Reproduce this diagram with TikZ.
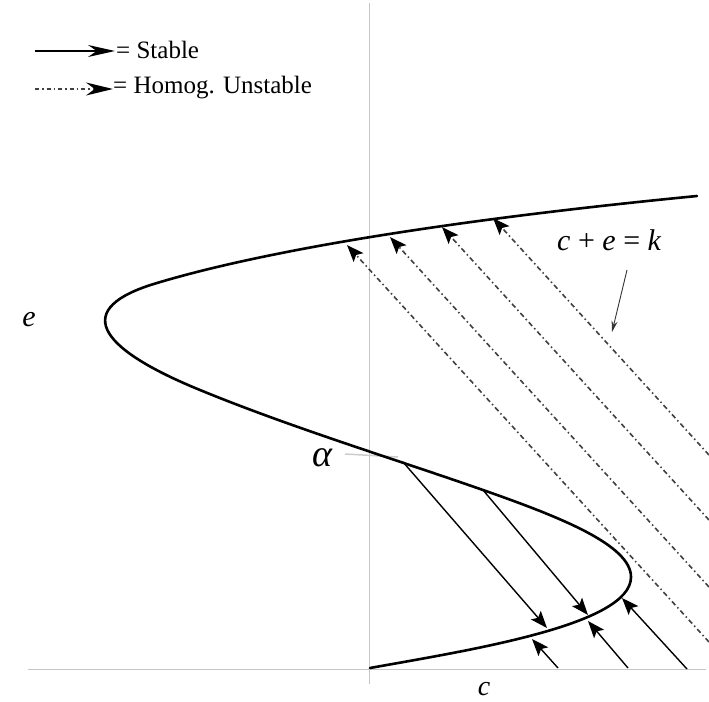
\documentclass[tikz,border=0pt]{standalone}
\usepackage{fontspec}
\setmainfont{Liberation Serif}
\usetikzlibrary{arrows.meta}
\tikzset{
  axisline/.style={gray!45, line width=1pt},
  branch/.style={black, line width=2.6pt, line cap=round},
  stablearrow/.style={black, line width=1.4pt, -{Stealth[length=17pt,width=13pt,inset=3.5pt]}},
  unstablearrow/.style={black!75, line width=1.6pt, dash pattern=on 5pt off 3pt on 1.5pt off 3pt, -{Stealth[length=17pt,width=13pt,inset=3.5pt,black]}},
  legendsolid/.style={black, line width=1.5pt, -{Stealth[length=27pt,width=12pt]}},
  legenddash/.style={black!75, line width=1.5pt, dash pattern=on 4pt off 3pt on 1.5pt off 3pt, -{Stealth[length=27pt,width=13pt,black]}},
  notearrow/.style={black!80, line width=0.9pt, -{Stealth[length=11pt,width=6pt]}},
  lbl/.style={inner sep=0pt, font=\fontsize{30}{32}\selectfont\itshape},
  legtxt/.style={inner sep=0pt, anchor=base west, font=\fontsize{25}{27}\selectfont}
}
\begin{document}
\begin{tikzpicture}[x=1pt,y=-1pt]
\useasboundingbox (0,0) rectangle (709,701);
% axes
\draw[axisline] (369,3) -- (369,684);
\draw[axisline] (28,669) -- (706,669);
% alpha marker
\draw[gray!40, line width=1.5pt] (345,454) -- (398,457);
% S-shaped curve
\draw[branch] (370,668) .. controls (470,650) and (631,625) .. (631,577)
  .. controls (631,545) and (560,517) .. (483,490)
  .. controls (393,458.5) and (290,427) .. (200,390)
  .. controls (95,347) and (72,308) .. (157,283)
  .. controls (240,258) and (400,225) .. (697,196);
% stable arrows
\coordinate (s1a) at (403,462); \coordinate (s1b) at (547,628);
\coordinate (s2a) at (483,490); \coordinate (s2b) at (588,615);
\coordinate (u1a) at (558,668); \coordinate (u1b) at (532,639);
\coordinate (u2a) at (628,668); \coordinate (u2b) at (588,621);
\coordinate (u3a) at (687,669); \coordinate (u3b) at (622,598);
\draw[stablearrow] (s1a) -- (s1b);
\draw[stablearrow] (s2a) -- (s2b);
\draw[stablearrow] (u1a) -- (u1b);
\draw[stablearrow] (u2a) -- (u2b);
\draw[stablearrow] (u3a) -- (u3b);
% unstable arrows
\coordinate (da) at (709,642); \coordinate (dat) at (347,245);
\coordinate (db) at (709,587); \coordinate (dbt) at (390,237);
\coordinate (dc) at (709,520); \coordinate (dct) at (442,227);
\coordinate (dd) at (709,455); \coordinate (ddt) at (493,218);
\draw[unstablearrow] (da) -- (dat);
\draw[unstablearrow] (db) -- (dbt);
\draw[unstablearrow] (dc) -- (dct);
\draw[unstablearrow] (dd) -- (ddt);
% labels
\node[lbl, anchor=base west] (cek) at (557,250) {c {\upshape +} e {\upshape =} k};
\coordinate (nta) at (627,270); \coordinate (ntb) at (612,332);
\draw[notearrow] (nta) -- (ntb);
\node[lbl, anchor=base] (elab) at (29,326) {e};
\node[lbl, anchor=base, font=\fontsize{28}{30}\selectfont\itshape] (clab) at (484,695) {c};
\node[lbl, anchor=base, font=\fontsize{38}{40}\selectfont\itshape] (alab) at (322,466) {α};
% legend
\coordinate (l1a) at (35,51); \coordinate (l1b) at (115,51);
\coordinate (l2a) at (35,89); \coordinate (l2b) at (113,89);
\draw[legendsolid] (l1a) -- (l1b);
\draw[legenddash] (l2a) -- (l2b);
\node[legtxt] (t1) at (116,59) {= Stable};
\node[legtxt] (t2) at (113,93) {= Homog. Unstable};
\end{tikzpicture}
\end{document}
